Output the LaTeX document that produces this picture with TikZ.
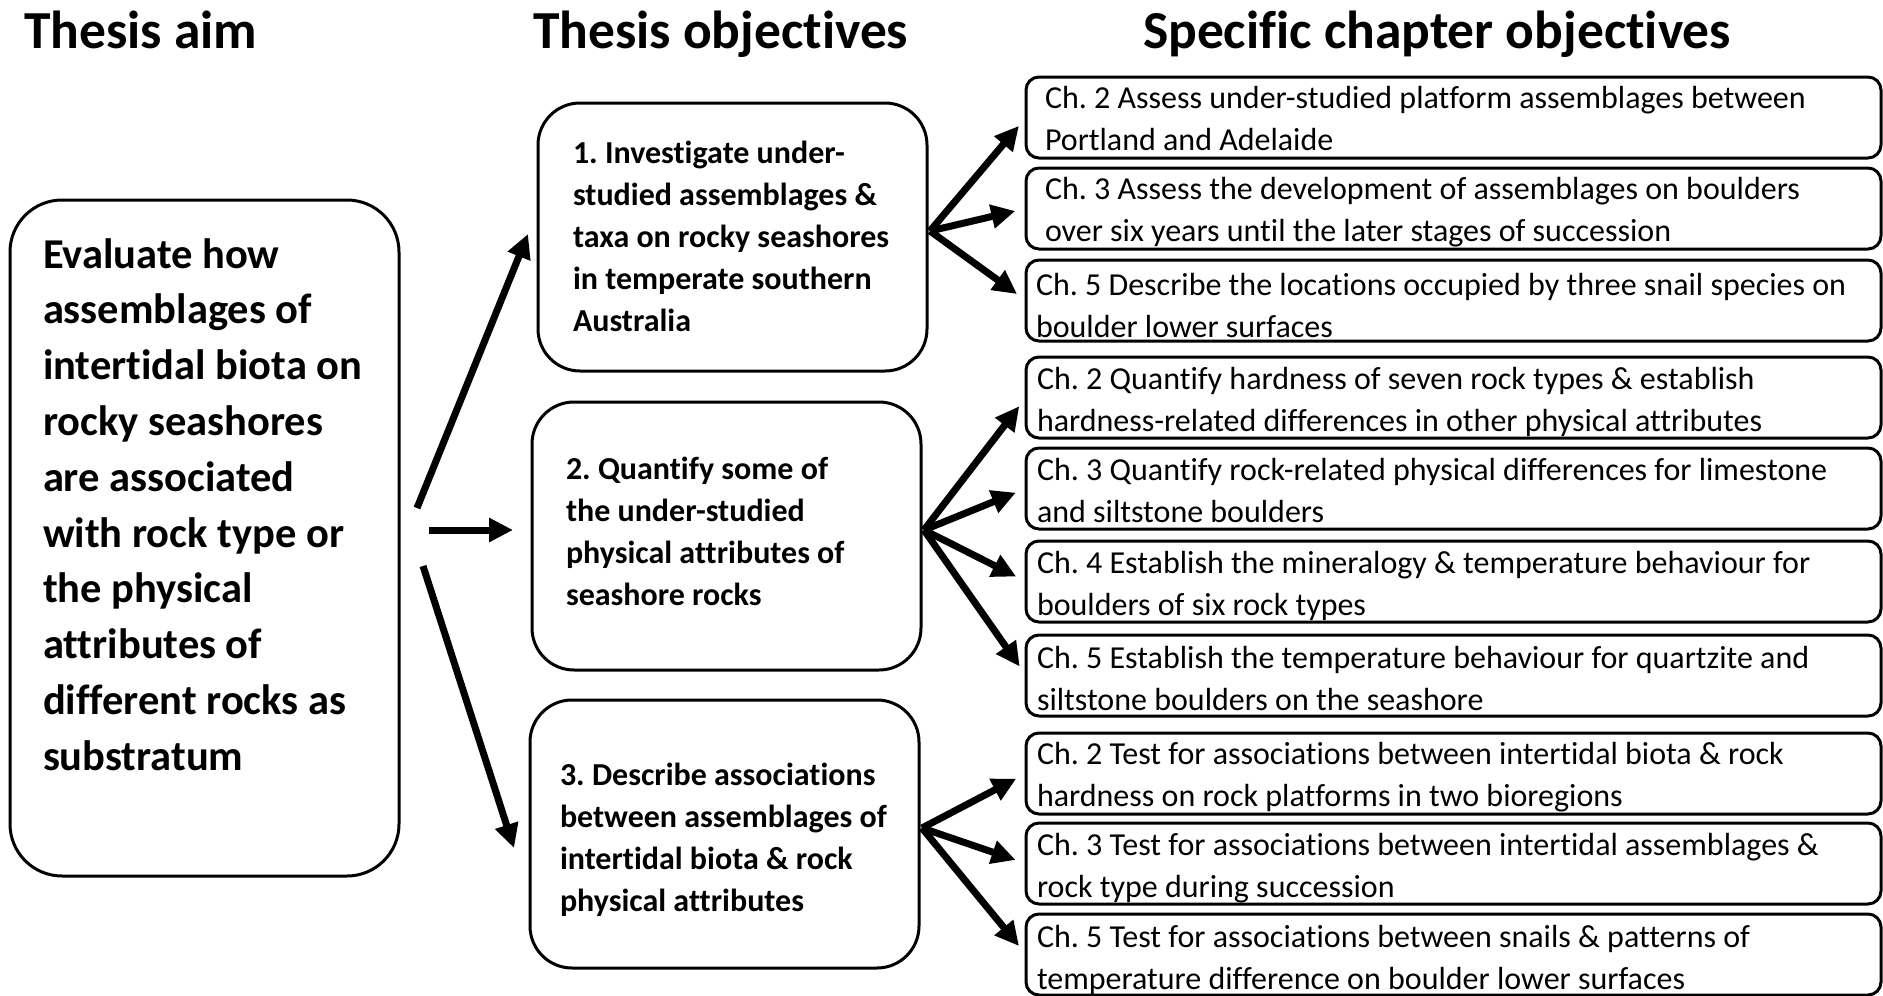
\documentclass[tikz,border=0pt]{standalone}
\usepackage{fontspec}
\setmainfont{Carlito}[Ligatures={NoCommon}]
\usetikzlibrary{arrows.meta,calc}
\frenchspacing
\tikzset{
  frame/.style={draw=black, line width=3pt, anchor=north west, inner sep=0pt, outer sep=0pt},
  aimbox/.style={frame, rounded corners=52pt, minimum width=389pt, minimum height=676pt},
  objbox/.style={frame, rounded corners=42pt, minimum width=389pt, minimum height=268pt},
  chbox/.style={frame, rounded corners=13pt, minimum width=855pt, minimum height=81pt},
  txt/.style={anchor=base west, inner sep=0pt, outer sep=0pt},
  titletxt/.style={txt, font=\fontsize{53.5pt}{64pt}\selectfont\bfseries},
  aimtxt/.style={txt, font=\fontsize{42.5pt}{55.8pt}\selectfont\bfseries},
  objtxt/.style={txt, font=\fontsize{32pt}{42pt}\selectfont\bfseries},
  chtxt/.style={txt, font=\fontsize{32pt}{42pt}\selectfont},
  arr/.style={line width=7pt, -{Triangle[length=24pt,width=23pt]}},
}
\newcommand\lns[1]{\begin{tabular}[t]{@{}l@{}}#1\end{tabular}}
\begin{document}
\begin{tikzpicture}[x=1pt,y=-1pt]
\useasboundingbox (0,0) rectangle (1883,996);
% titles
\node[titletxt] (h1) at (24,48) {Thesis aim};
\node[titletxt] (h2) at (533,48) {Thesis objectives};
\node[titletxt] (h3) at (1143,48) {Specific chapter objectives};
% aim
\node[aimbox] (aim) at (10,200) {};
\node[aimtxt] (aimt) at (43,268) {\lns{Evaluate how\\assemblages of\\intertidal biota on\\rocky seashores\\are associated\\with rock type or\\the physical\\attributes of\\different rocks as\\substratum}};
% objectives
\node[objbox] (o1) at (538,103) {};
\node[objtxt] (o1t) at (573,163) {\lns{1. Investigate under-\\studied assemblages \&\\taxa on rocky seashores\\in temperate southern\\Australia}};
\node[objbox] (o2) at (532,402) {};
\node[objtxt] (o2t) at (566,479) {\lns{2. Quantify some of\\the under-studied\\physical attributes of\\seashore rocks}};
\node[objbox] (o3) at (530,700) {};
\node[objtxt] (o3t) at (560,785) {\lns{3. Describe associations\\between assemblages of\\intertidal biota \& rock\\physical attributes}};
% chapter boxes
\node[chbox] (r1) at (1026,77) {};
\node[chtxt] (r1t) at (1045,108) {\lns{Ch. 2 Assess under-studied platform assemblages between\\Portland and Adelaide}};
\node[chbox] (r2) at (1026,168) {};
\node[chtxt] (r2t) at (1045,199) {\lns{Ch. 3 Assess the development of assemblages on boulders\\over six years until the later stages of succession}};
\node[chbox] (r3) at (1026,260) {};
\node[chtxt] (r3t) at (1036,295) {\lns{Ch. 5 Describe the locations occupied by three snail species on\\boulder lower surfaces}};
\node[chbox] (r4) at (1026,357) {};
\node[chtxt] (r4t) at (1037,389) {\lns{Ch. 2 Quantify hardness of seven rock types \& establish\\hardness-related differences in other physical attributes}};
\node[chbox] (r5) at (1026,448) {};
\node[chtxt] (r5t) at (1037,480) {\lns{Ch. 3 Quantify rock-related physical differences for limestone\\and siltstone boulders}};
\node[chbox] (r6) at (1026,541) {};
\node[chtxt] (r6t) at (1037,573) {\lns{Ch. 4 Establish the mineralogy \& temperature behaviour for\\boulders of six rock types}};
\node[chbox] (r7) at (1026,635) {};
\node[chtxt] (r7t) at (1037,668) {\lns{Ch. 5 Establish the temperature behaviour for quartzite and\\siltstone boulders on the seashore}};
\node[chbox] (r8) at (1026,733) {};
\node[chtxt] (r8t) at (1037,764) {\lns{Ch. 2 Test for associations between intertidal biota \& rock\\hardness on rock platforms in two bioregions}};
\node[chbox] (r9) at (1026,823) {};
\node[chtxt] (r9t) at (1037,855) {\lns{Ch. 3 Test for associations between intertidal assemblages \&\\rock type during succession}};
\node[chbox] (r10) at (1026,914) {};
\node[chtxt] (r10t) at (1037,947) {\lns{Ch. 5 Test for associations between snails \& patterns of\\temperature difference on boulder lower surfaces}};
% arrows aim -> objectives
\draw[arr] ($(aim.east)+(18,-30)$) -- ($(o1.west)+(-10,-3)$);
\draw[arr] ($(aim.east)+(30,-8)$) -- ($(o2.west)+(-19,-6)$);
\draw[arr] ($(aim.east)+(24,28)$) -- ($(o3.west)+(-16,14)$);
% arrows objectives -> chapters
\foreach \s/\t in {o1/r1,o1/r2,o1/r3,o2/r4,o2/r5,o2/r6,o2/r7,o3/r8,o3/r9,o3/r10}
  \draw[arr, shorten >=11pt] ($(\s.east)+(3,-6)$) -- (\t.west);
\end{tikzpicture}
\end{document}
